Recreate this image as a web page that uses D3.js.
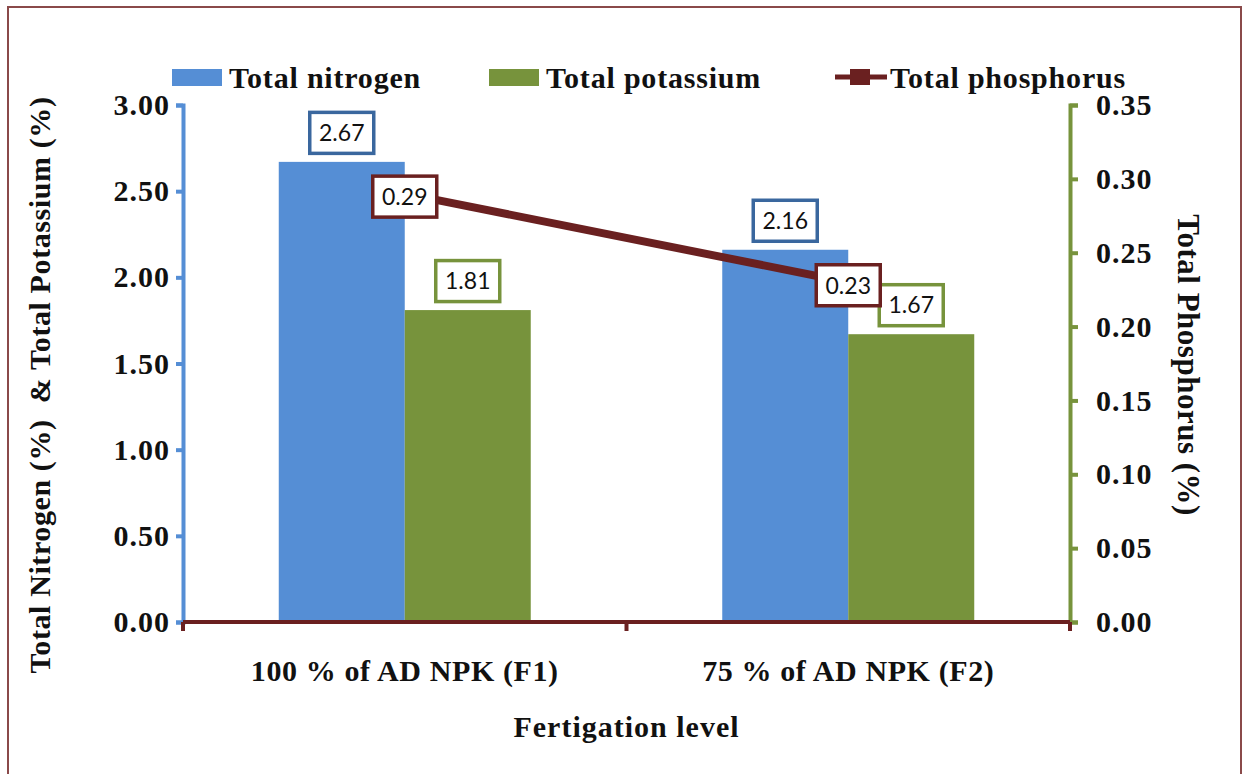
<!DOCTYPE html>
<html>
<head>
<meta charset="utf-8">
<script src="https://cdn.jsdelivr.net/npm/d3@7"></script>
<style>
  body { margin: 0; background: #fff; }
  text { font-family: "Liberation Serif", "Times New Roman", serif; font-weight: bold; }
  .val { font-family: Lato, "Noto Sans", sans-serif; font-weight: normal; }
</style>
</head>
<body>
<div id="chart"></div>
<script>
///////////////////////////////// Data /////////////////////////////////
var categories = ["100 % of AD NPK (F1)", "75 % of AD NPK (F2)"]
var nitrogen = [2.67, 2.16]
var potassium = [1.81, 1.67]
var phosphorus = [0.29, 0.23]
var leftTicks = [0, 0.5, 1, 1.5, 2, 2.5, 3]
var rightTicks = [0, 0.05, 0.1, 0.15, 0.2, 0.25, 0.3, 0.35]
var seriesNames = ["Total nitrogen", "Total potassium", "Total phosphorus"]

var blue = "#558ed5", green = "#77933c", maroon = "#6a2020"
var blueDark = "#3a679e"

var totalWidth = 1248, totalHeight = 774
var plot = { left: 183, right: 1070, top: 105, bottom: 622 }
var fontSize = 30

var svg = d3.select("#chart").append("svg")
  .attr("width", totalWidth)
  .attr("height", totalHeight)

// outer frame
svg.append("rect")
  .attr("x", 8).attr("y", 7)
  .attr("width", 1233).attr("height", 780)
  .attr("fill", "#fff")
  .attr("stroke", "#8a4a4a")
  .attr("stroke-width", 2)

///////////////////////////// Scales /////////////////////////////
var x0 = d3.scaleBand()
  .domain(categories)
  .range([plot.left, plot.right])

var x1 = d3.scaleBand()
  .domain(["n", "k"])
  .range([0, x0.bandwidth()])
  .paddingOuter(0.76)

var yLeft = d3.scaleLinear().domain([0, 3]).range([plot.bottom, plot.top])
var yRight = d3.scaleLinear().domain([0, 0.35]).range([plot.bottom, plot.top])

///////////////////////////// Bars /////////////////////////////
var g = svg.append("g")

var barData = []
categories.forEach(function(c, i) {
  barData.push({ cat: c, key: "n", v: nitrogen[i], color: blue, border: blueDark })
  barData.push({ cat: c, key: "k", v: potassium[i], color: green, border: green })
})

g.selectAll(".bar").data(barData).enter().append("rect")
  .attr("class", "bar")
  .attr("x", d => x0(d.cat) + x1(d.key))
  .attr("width", x1.bandwidth())
  .attr("y", d => yLeft(d.v))
  .attr("height", d => yLeft(0) - yLeft(d.v))
  .attr("fill", d => d.color)

///////////////////////////// Axes /////////////////////////////
var axisL = svg.append("g")
  .attr("transform", "translate(" + plot.left + ",0)")
  .call(d3.axisLeft(yLeft).tickValues(leftTicks).tickFormat(d3.format(".2f")).tickSizeOuter(0).tickSize(7).tickPadding(6))
axisL.select(".domain").attr("stroke", blue).attr("stroke-width", 4)
axisL.selectAll(".tick line").attr("stroke", blue).attr("stroke-width", 4)
axisL.selectAll(".tick text").attr("font-size", fontSize).attr("fill", "#111")
  .attr("font-family", "Liberation Serif").attr("font-weight", "bold")
  .attr("letter-spacing", "1px")

var axisR = svg.append("g")
  .attr("transform", "translate(" + plot.right + ",0)")
  .call(d3.axisRight(yRight).tickValues(rightTicks).tickFormat(d3.format(".2f")).tickSizeOuter(0).tickSize(8).tickPadding(18))
axisR.select(".domain").attr("stroke", green).attr("stroke-width", 4)
axisR.selectAll(".tick line").attr("stroke", green).attr("stroke-width", 4)
axisR.selectAll(".tick text").attr("font-size", fontSize).attr("fill", "#111")
  .attr("font-family", "Liberation Serif").attr("font-weight", "bold")
  .attr("letter-spacing", "1px")

// category axis: ticks on band edges, labels centred
var axisB = svg.append("g")
  .attr("transform", "translate(0," + plot.bottom + ")")
axisB.append("line")
  .attr("x1", plot.left).attr("x2", plot.right)
  .attr("stroke", maroon).attr("stroke-width", 4)
var edges = [plot.left].concat(categories.map(c => x0(c) + x0.bandwidth()))
axisB.selectAll(".edge").data(edges).enter().append("line")
  .attr("x1", d => d).attr("x2", d => d)
  .attr("y1", 0).attr("y2", 9)
  .attr("stroke", maroon).attr("stroke-width", 4)
axisB.selectAll(".cat").data(categories).enter().append("text")
  .attr("x", d => x0(d) + x0.bandwidth() / 2)
  .attr("y", 59)
  .attr("text-anchor", "middle")
  .attr("font-size", fontSize)
  .attr("letter-spacing", "0.6px")
  .attr("fill", "#111")
  .text(d => d)

///////////////////////////// Phosphorus line /////////////////////////////
var line = d3.line()
  .x((d, i) => x0(categories[i]) + x0.bandwidth() / 2)
  .y(d => yRight(d))

g.append("path")
  .datum(phosphorus)
  .attr("d", line)
  .attr("fill", "none")
  .attr("stroke", maroon)
  .attr("stroke-width", 8)

///////////////////////////// Value labels /////////////////////////////
function valueBox(cx, cy, txt, border) {
  var bw = 64, bh = 41
  var lab = svg.append("g").attr("transform", "translate(" + cx + "," + cy + ")")
  lab.append("rect")
    .attr("x", -bw / 2).attr("y", -bh / 2)
    .attr("width", bw).attr("height", bh)
    .attr("fill", "#fff").attr("stroke", border).attr("stroke-width", 3.5)
  lab.append("text")
    .attr("class", "val")
    .attr("text-anchor", "middle")
    .attr("dy", "0.36em")
    .attr("font-size", 23)
    .attr("fill", "#111")
    .text(txt)
}

barData.forEach(function(d) {
  var cx = x0(d.cat) + x1(d.key) + x1.bandwidth() / 2
  valueBox(cx, yLeft(d.v) - 29, d.v.toFixed(2), d.border)
})
phosphorus.forEach(function(v, i) {
  valueBox(x0(categories[i]) + x0.bandwidth() / 2, yRight(v) + 3, v.toFixed(2), maroon)
})

///////////////////////////// Titles /////////////////////////////
svg.append("text")
  .attr("transform", "translate(50,385) rotate(-90)")
  .attr("text-anchor", "middle")
  .attr("font-size", 30)
  .attr("letter-spacing", "0.6px")
  .attr("fill", "#111")
  .attr("xml:space", "preserve")
  .text("Total Nitrogen (%)  & Total Potassium (%)")

svg.append("text")
  .attr("transform", "translate(1178,365) rotate(90)")
  .attr("text-anchor", "middle")
  .attr("font-size", 31)
  .attr("letter-spacing", "0.5px")
  .attr("fill", "#111")
  .text("Total Phosphorus (%)")

svg.append("text")
  .attr("x", (plot.left + plot.right) / 2)
  .attr("y", 737)
  .attr("text-anchor", "middle")
  .attr("font-size", fontSize)
  .attr("letter-spacing", "1px")
  .attr("fill", "#111")
  .text("Fertigation level")

///////////////////////////// Legend /////////////////////////////
var legend = svg.append("g").attr("transform", "translate(0,78)")
var legendX = [172, 489, 835]

legend.append("rect").attr("x", legendX[0]).attr("y", -9).attr("width", 50).attr("height", 17).attr("fill", blue)
legend.append("rect").attr("x", legendX[1]).attr("y", -9).attr("width", 50).attr("height", 17).attr("fill", green)
legend.append("line").attr("x1", legendX[2]).attr("x2", legendX[2] + 52).attr("y1", -1).attr("y2", -1)
  .attr("stroke", maroon).attr("stroke-width", 5)
legend.append("rect").attr("x", legendX[2] + 15).attr("y", -9).attr("width", 20).attr("height", 16).attr("fill", maroon)

legend.selectAll(".lt").data(seriesNames).enter().append("text")
  .attr("x", (d, i) => legendX[i] + (i === 2 ? 55 : 57))
  .attr("y", 10)
  .attr("font-size", fontSize)
  .attr("letter-spacing", "0.8px")
  .attr("fill", "#111")
  .text(d => d)
</script>
</body>
</html>
